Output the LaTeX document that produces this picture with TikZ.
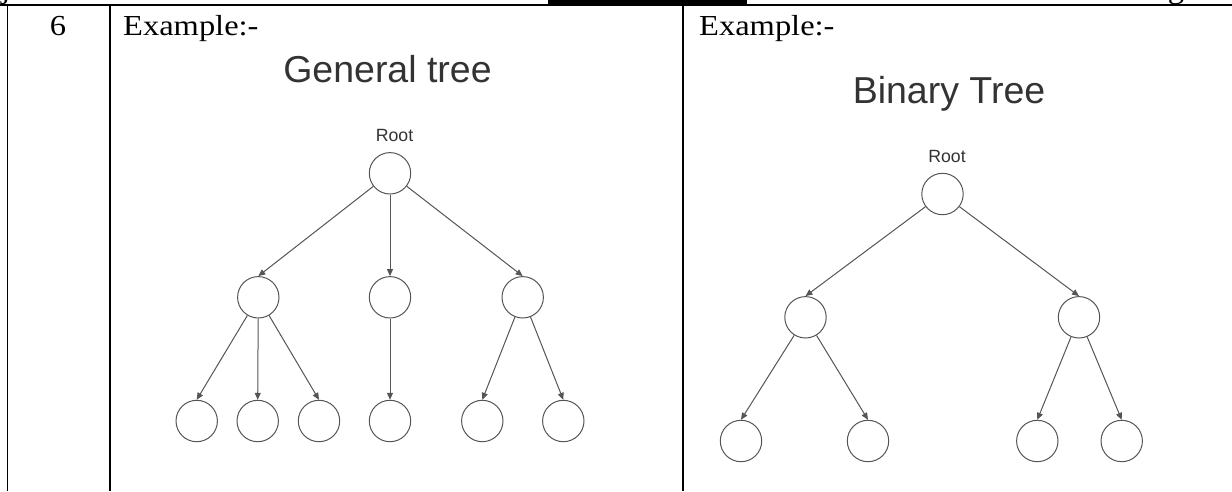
\documentclass[tikz,border=0pt]{standalone}
\usepackage{fontspec}
\setmainfont{Liberation Serif}
\newfontfamily\treefont{Liberation Sans}
\usetikzlibrary{arrows.meta}
\definecolor{treegray}{HTML}{555555}
\definecolor{textgray}{HTML}{333333}
\begin{document}
\begin{tikzpicture}[x=1pt,y=-1pt,
  tnode/.style={circle,draw=treegray,line width=1pt,minimum size=41.4pt,inner sep=0pt},
  edge/.style={draw=treegray,line width=1pt,-{Triangle[length=7pt,width=6pt]}},
  tabtext/.style={font=\fontsize{29}{34}\selectfont,inner sep=0pt,xscale=1.12},
  title/.style={font=\treefont\fontsize{37.5}{44}\selectfont,text=textgray,inner sep=0pt,anchor=base},
  rootlabel/.style={font=\treefont\fontsize{17.7}{21}\selectfont,text=textgray,inner sep=0pt,anchor=base},
  rule/.style={line width=1.7pt,black}]
\useasboundingbox (0,0) rectangle (1232,491);
% cut-off text of the line above
\begin{scope}
  \clip (0,0) rectangle (1232,4);
  \node[tabtext,anchor=base] (fragj) at (6,-2) {j};
  \node[tabtext,anchor=base] (fragg) at (1176,-2) {g};
\end{scope}
% table rules
\fill[black] (548,0) rectangle (747,5.7);
\draw[rule] (0,4.9) -- (1232,4.9);
\draw[rule] (7.5,4.9) -- (7.5,491);
\draw[rule] (109.8,4.9) -- (109.8,491);
\draw[rule] (682.8,4.9) -- (682.8,491);
% table texts
\node[tabtext,anchor=base] (six) at (58,35) {6};
\node[tabtext,anchor=base west] (exl) at (123,35) {Example:-};
\node[tabtext,anchor=base west] (exr) at (699,35) {Example:-};
% general tree
\node[title] (gtitle) at (387.5,82) {General tree};
\node[rootlabel] (groot) at (394.5,141.7) {Root};
\node[tnode] (g0) at (390,173.3) {};
\node[tnode] (g1) at (258.3,297.3) {};
\node[tnode] (g2) at (390,297.3) {};
\node[tnode] (g3) at (522.7,297.3) {};
\node[tnode] (l1) at (196.7,421) {};
\node[tnode] (l2) at (257.7,421) {};
\node[tnode] (l3) at (319,421) {};
\node[tnode] (l4) at (390,421) {};
\node[tnode] (l5) at (482.3,421) {};
\node[tnode] (l6) at (563.3,421) {};
\draw[edge] (g0) -- (g1.north);
\draw[edge] (g0) -- (g2.north);
\draw[edge] (g0) -- (g3.north);
\draw[edge] (g1) -- (l1.north);
\draw[edge] (g1) -- (l2.north);
\draw[edge] (g1) -- (l3.north);
\draw[edge] (g2) -- (l4.north);
\draw[edge] (g3) -- (l5.north);
\draw[edge] (g3) -- (l6.north);
% binary tree
\node[title] (btitle) at (949,103) {Binary Tree};
\node[rootlabel] (broot) at (947,162) {Root};
\node[tnode] (b0) at (942.5,194) {};
\node[tnode] (b1) at (805.5,317.3) {};
\node[tnode] (b2) at (1079,317.3) {};
\node[tnode] (m1) at (741,441) {};
\node[tnode] (m2) at (868,441) {};
\node[tnode] (m3) at (1037.3,441) {};
\node[tnode] (m4) at (1121.7,441) {};
\draw[edge] (b0) -- (b1.north);
\draw[edge] (b0) -- (b2.north);
\draw[edge] (b1) -- (m1.north);
\draw[edge] (b1) -- (m2.north);
\draw[edge] (b2) -- (m3.north);
\draw[edge] (b2) -- (m4.north);
\end{tikzpicture}
\end{document}
